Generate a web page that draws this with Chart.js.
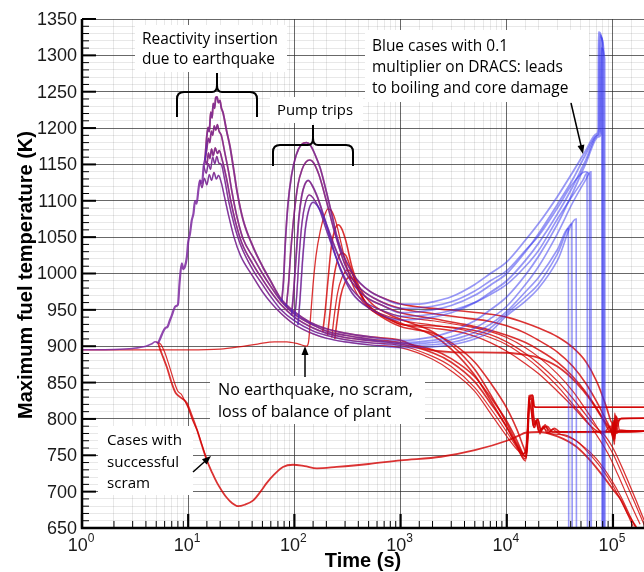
<!DOCTYPE html>
<html><head><meta charset="utf-8">
<script src="https://cdn.jsdelivr.net/npm/chart.js@4.4.0/dist/chart.umd.min.js"></script>
<style>html,body{margin:0;padding:0;background:#fff}#wrap{width:644px;height:572px}</style>
</head><body><div id="wrap"><canvas id="c" width="644" height="572"></canvas></div>
<script>
// ---- tick labels ----
const xDecades = [1, 10, 100, 1000, 10000, 100000];
const xExponents = ['0', '1', '2', '3', '4', '5'];
const yTickLabels = [650, 700, 750, 800, 850, 900, 950, 1000, 1050, 1100, 1150, 1200, 1250, 1300, 1350];

// ---- early history (t <= 1000 s): [time (s), max fuel temperature (K)] ----
const baseline = [[1,895],[2,895.5],[3,897],[4,900],[4.5,903],[4.9,906],[5.2,904]];
const rise = [[5.2,904],[5.5,912],[5.8,920],[6.1,925],[6.4,927],[6.7,935],[7.0,942],[7.3,950],[7.6,955],[8.0,957],[8.3,988],[8.7,1014],[9.0,1006],[9.3,1009],[9.7,1022],[10.0,1043],[10.4,1055],[10.8,1073],[11.2,1082],[11.6,1100],[12.0,1096],[12.5,1116],[12.9,1128],[13.5,1124],[14.0,1148],[14.4,1156]];
const react1 = [[14.4,1156],[15.0,1190],[15.4,1201],[15.8,1195],[16.3,1222],[16.8,1214],[17.2,1234],[17.7,1227],[18.2,1242],[18.7,1243],[19.2,1235],[19.9,1238],[20.5,1228],[21.3,1221],[23,1196],[24.8,1174],[27,1140],[29,1111],[33,1073],[41,1036],[50,1010],[59,991],[73,967],[85,956],[100,947],[140,933],[200,924],[300,918],[500,913],[1000,908]];
const react2 = [[14.4,1156],[15,1172],[15.5,1186],[16,1180],[16.5,1196],[17,1190],[17.6,1203],[18.2,1197],[18.8,1205],[19.5,1196],[20.5,1190],[22,1168],[24,1140],[26,1110],[29,1076],[33,1047],[41,1022],[50,1000],[60,982],[75,962],[100,944],[150,929],[200,921],[300,915],[500,910],[1000,905]];
const react3 = [[14.4,1156],[15,1150],[15.5,1166],[16,1158],[16.6,1171],[17.2,1162],[18,1173],[18.8,1165],[19.6,1169],[21,1155],[23,1130],[25,1102],[28,1070],[32,1042],[41,1012],[50,992],[60,975],[75,957],[100,940],[150,925],[200,918],[300,912],[500,908],[1000,903]];
const react4 = [[14.0,1148],[14.8,1138],[15.5,1151],[16.2,1143],[17,1160],[17.8,1151],[18.6,1161],[19.4,1152],[20.5,1150],[22,1130],[24,1100],[27,1068],[31,1040],[41,1004],[50,985],[60,968],[75,950],[100,935],[150,921],[200,915],[300,909],[500,905],[1000,901]];
const react5 = [[12.9,1128],[13.5,1118],[14.2,1131],[15,1122],[15.8,1136],[16.6,1128],[17.5,1139],[18.4,1130],[19.3,1135],[20.5,1125],[22,1105],[24,1080],[27,1050],[31,1025],[41,995],[50,975],[60,960],[75,945],[100,930],[150,917],[200,911],[300,906],[500,902],[1000,898]];
const pump1 = [[76,962],[79,990],[82,1040],[87,1095],[94,1135],[104,1163],[116,1177],[130,1180],[142,1176],[156,1164],[175,1145],[202,1110],[228,1078],[250,1052],[280,1030],[314,1014],[360,998],[414,987],[520,975],[640,968],[1000,958]];
const pump2 = [[84,955],[88,985],[93,1035],[100,1085],[108,1122],[118,1143],[128,1153],[140,1156],[152,1152],[170,1136],[200,1100],[240,1056],[300,1012],[400,982],[600,964],[1000,952]];
const pump3 = [[94,942],[98,972],[104,1025],[110,1075],[117,1106],[125,1122],[135,1128],[146,1122],[165,1105],[200,1068],[250,1030],[320,996],[450,970],[700,955],[1000,946]];
const pump4 = [[100,935],[105,968],[111,1025],[118,1070],[127,1097],[138,1108],[150,1104],[170,1090],[200,1060],[250,1020],[320,986],[450,962],[700,948],[1000,941]];
const pump5 = [[108,929],[113,965],[119,1015],[127,1062],[137,1088],[150,1098],[165,1093],[190,1076],[220,1046],[270,1006],[350,973],[500,953],[1000,936]];
const noQuake = [[1,895],[5,895],[10,895],[20,896],[30,899],[45,903],[65,906],[85,906],[110,903],[130,900],[136,906],[142,940],[150,985],[160,1025],[175,1058],[192,1080],[207,1089],[222,1087],[245,1072],[275,1042],[310,1010],[370,978],[480,955],[700,940],[1000,930]];
const rpump1 = [[185,920],[195,948],[207,990],[222,1035],[238,1058],[258,1067],[278,1062],[305,1045],[350,1008],[420,978],[550,957],[800,943],[1000,937]];
const rpump2 = [[205,915],[217,948],[232,988],[252,1016],[280,1028],[305,1025],[335,1010],[385,985],[460,962],[600,947],[1000,932]];
const rpump3 = [[225,912],[238,943],[255,973],[280,994],[318,1005],[345,1001],[385,985],[445,966],[550,950],[800,937],[1000,930]];
const rpump4 = [[240,910],[254,938],[272,968],[298,987],[330,995],[362,990],[405,975],[490,955],[650,941],[1000,927]];
const scram1 = [[5.2,905],[5.4,897],[5.8,885],[6.3,871],[6.8,855],[7.2,844],[7.6,836],[8.4,830],[9.7,822],[10.8,805],[12.1,785],[13.5,763],[15,743],[16.8,726],[18.7,712],[21,700],[23,692],[26,684],[29.5,680],[34,682],[41,688],[48,700],[55,712],[65,724],[78,734],[97,737],[125,735],[163,732],[250,734],[500,738],[1000,743],[2400,748],[5000,757],[10000,770],[13000,777],[15000,781],[20000,782],[30000,776],[45000,762],[61000,743],[80000,722],[100000,703],[120000,688],[140000,668],[166000,651]];
const scram2 = [[5.0,906],[5.5,903],[6.0,892],[6.5,877],[7.0,862],[7.5,848],[8.0,838],[8.6,834],[9.2,826],[10,815],[11,798],[12.1,785],[13.5,764],[15,744]];

// ---- late history (t >= 1000 s), blue = 0.1 DRACS multiplier ----
const blue1 = [[1000,958],[1500,958],[2000,961],[3000,968],[5000,985],[7000,1000],[10000,1016],[15000,1046],[20000,1069],[30000,1106],[42000,1140],[55000,1168],[70000,1192],[72500,1198],[73000,1332],[78500,1322],[79000,650]];
const blue2 = [[1000,946],[2000,950],[3000,956],[5000,970],[7000,984],[10000,1000],[15000,1030],[20000,1055],[30000,1095],[42000,1130],[55000,1163],[71000,1190],[74000,1198],[74500,1328],[80000,1318],[80500,650]];
const blue3 = [[1000,936],[2000,940],[3000,946],[5000,960],[7000,974],[10000,990],[15000,1018],[20000,1042],[30000,1082],[42000,1120],[55000,1155],[72000,1190],[75500,1196],[76000,1325],[81500,1310],[82000,650]];
const blue4 = [[1000,908],[2000,913],[3000,920],[5000,935],[7000,950],[10000,968],[15000,998],[20000,1024],[30000,1068],[42000,1112],[55000,1150],[73000,1188],[77000,1192],[77500,1310],[83500,1295],[84000,650]];
const blue5 = [[1000,941],[2000,944],[3000,949],[5000,960],[7000,971],[10000,985],[15000,1010],[20000,1032],[30000,1075],[42000,1108],[52000,1128],[57000,1138],[57500,650]];
const blue6 = [[1000,905],[2000,908],[3000,913],[5000,925],[7000,938],[10000,955],[15000,985],[20000,1010],[30000,1055],[42000,1098],[55000,1128],[62000,1140],[62500,650]];
const blue7 = [[1000,903],[2000,905],[3000,909],[5000,919],[7000,930],[10000,948],[15000,975],[20000,995],[30000,1033],[38000,1062],[38300,650]];
const blue8 = [[1000,901],[2000,902],[3000,905],[5000,914],[7000,925],[10000,945],[15000,968],[20000,986],[30000,1027],[41000,1068],[41300,650]];
const blue9 = [[1000,898],[2000,899],[3000,902],[5000,910],[7000,920],[10000,942],[15000,962],[20000,980],[30000,1018],[45000,1075],[45300,650]];
const blue10 = [[1000,952],[2000,955],[3000,961],[5000,976],[7000,990],[10000,1004],[15000,1032],[20000,1052],[30000,1090],[42000,1124],[55000,1140],[60000,1136],[60500,650]];

// ---- late history (t >= 1000 s), red = nominal DRACS ----
const redTop1 = [[1000,958],[2000,952],[4000,948],[7000,944],[10000,940],[15000,932],[20000,925],[30000,913],[42000,898],[56000,878],[70000,852],[85000,820],[95000,798],[100000,788],[102000,770],[104000,808],[106000,790],[108000,803],[112000,797],[120000,801],[200000,801]];
const redTop2 = [[1000,952],[2000,945],[4000,939],[7000,934],[10000,928],[15000,918],[20000,908],[30000,892],[42000,872],[56000,848],[70000,824],[85000,800],[95000,786],[100000,778],[102000,798],[104000,772],[106000,792],[108000,780],[115000,784],[200000,783]];
const redMid1 = [[1000,946],[2000,938],[4000,930],[7000,922],[10000,915],[15000,905],[20000,895],[30000,878],[42000,858],[56000,836],[70000,815],[85000,795],[95000,785],[100000,776],[103000,798],[105000,778],[108000,792],[112000,782],[200000,783]];
const redTop3 = [[1000,941],[2000,935],[4000,928],[7000,920],[10000,912],[15000,898],[20000,885],[30000,862],[42000,838],[56000,812],[70000,790],[85000,770],[100000,752],[130000,715],[160000,685],[200000,652]];
const redTop4 = [[1000,936],[2000,929],[4000,922],[7000,912],[10000,902],[15000,885],[20000,870],[30000,845],[42000,820],[56000,798],[70000,778],[90000,752],[110000,725],[140000,690],[180000,655]];
const redTop5 = [[1000,930],[2000,925],[4000,918],[7000,905],[10000,893],[15000,876],[20000,862],[30000,838],[45000,812],[60000,792],[80000,780],[95000,790],[100000,772],[103000,800],[106000,785],[110000,798],[115000,785],[200000,783]];
const redFlat = [[1000,908],[1500,898],[3000,892],[10000,891],[15000,888],[20000,884],[30000,872],[45000,850],[60000,828],[80000,800],[95000,783],[100000,795],[103000,765],[106000,805],[110000,790],[115000,800],[200000,801]];
const redLow1 = [[1000,905],[2000,895],[3000,883],[5000,858],[7000,830],[10000,797],[12500,770],[14500,750],[15200,748],[15800,790],[16200,832],[17500,833],[18000,818],[18800,816],[200000,816]];
const redLow2 = [[1000,903],[2000,891],[3000,878],[5000,851],[7000,822],[10000,789],[12500,763],[14800,745],[15600,760],[16200,830],[17200,830],[17800,800],[18500,792],[19500,800],[21000,783],[23000,792],[25000,781],[28000,787],[32000,782],[200000,783]];
const redLow3 = [[1000,901],[2000,886],[3000,872],[5000,843],[7000,815],[10000,782],[12500,760],[15000,742],[15800,775],[16400,828],[17000,826],[17600,795],[18300,788],[19300,797],[20500,779],[22000,790],[24000,780],[27000,786],[30000,781],[45000,770],[60000,752],[80000,730],[100000,708],[130000,676],[155000,652]];
const redLow4 = [[1000,898],[2000,882],[3000,866],[5000,838],[7000,808],[10000,776],[12500,758],[14000,752],[15000,755],[15800,800],[16500,825],[17200,805],[18000,788],[19000,796],[20000,782],[22000,788],[25000,780],[35000,778],[50000,765],[70000,745],[95000,718],[120000,692],[150000,662],[165000,650]];
const redLow5 = [[1000,937],[2000,920],[3000,902],[5000,868],[7000,834],[10000,794],[12500,766],[14500,752],[15500,768],[16300,820],[17000,812],[17800,790],[18800,798],[20000,784],[23000,790],[26000,782],[200000,783]];
const redLow6 = [[1000,932],[2000,915],[3000,896],[5000,860],[7000,826],[10000,788],[12800,760],[15000,748],[15700,780],[16300,826],[17300,828],[17900,805],[18600,795],[19600,800],[21000,785],[24000,790],[27000,782],[200000,783]];
const redMid2 = [[1000,930],[2000,928],[4000,924],[7000,916],[10000,906],[15000,890],[20000,876],[30000,852],[42000,828],[56000,805],[70000,788],[85000,776],[100000,760],[130000,724],[165000,688],[200000,658]];
const redLow7 = [[1000,927],[2000,918],[3000,905],[5000,878],[7000,850],[10000,815],[12500,785],[14500,760],[15300,752],[15900,785],[16400,830],[17600,832],[18100,818],[19000,816],[200000,816]];

const RED = 'rgba(210,0,0,0.8)';
const PURPLE = 'rgba(125,40,160,0.85)';
const BLUE = 'rgba(50,50,240,0.5)';

const join = (a, b) => a.concat(b.slice(1));
// Chart.js paints the first dataset on top, so the blue runs are listed before the red ones
const series = [
  [rise, PURPLE, 2.2], [baseline, PURPLE, 1.5],
  [join(pump1, blue1), BLUE, 1.8], [join(pump2, blue10), BLUE, 1.6], [join(pump3, blue2), BLUE, 1.8], [join(pump4, blue5), BLUE, 1.6], [join(pump5, blue3), BLUE, 1.8],
  [join(react1, blue4), BLUE, 1.8], [join(react2, blue6), BLUE, 1.6], [join(react3, blue7), BLUE, 1.6], [join(react4, blue8), BLUE, 1.6], [join(react5, blue9), BLUE, 1.6],
  [join(pump1, redTop1), RED, 1.6], [join(pump2, redTop2), RED, 1.6], [join(pump3, redMid1), RED, 1.6], [join(pump4, redTop3), RED, 1.2], [join(pump5, redTop4), RED, 1.2],
  [join(react1, redFlat), RED, 1.8], [join(react2, redLow1), RED, 1.6], [join(react3, redLow2), RED, 1.6], [join(react4, redLow3), RED, 1.2], [join(react5, redLow4), RED, 1.2],
  [join(rpump1, redLow5), RED, 1.6], [join(rpump2, redLow6), RED, 1.6], [join(rpump3, redMid2), RED, 1.3], [join(rpump4, redLow7), RED, 1.6],
  [join(noQuake, redTop5), RED, 1.3],
  [scram1, RED, 1.8], [scram2, RED, 1.2]
];

const datasets = series.map(([arr, color, w]) => ({
  data: arr.map(([x, y]) => ({x, y})),
  borderColor: color, borderWidth: w, pointRadius: 0, fill: false,
  cubicInterpolationMode: 'monotone'
}));

const TEXT_FONT = '"Open Sans", Lato, sans-serif';
const notes = [
  {box: [135, 25, 287, 72], x: 142, base: [44, 64], lines: ['Reactivity insertion', 'due to earthquake'], fit: 136},
  {box: [270, 97, 363, 123], x: 277, base: [115], lines: ['Pump trips'], fit: 76},
  {box: [365, 30, 589, 102], x: 372, base: [51, 72, 93], lines: ['Blue cases with 0.1', 'multiplier on DRACS: leads', 'to boiling and core damage'], fit: 191, fitIdx: 1},
  {box: [210, 376, 425, 424], x: 218, base: [395, 417], lines: ['No earthquake, no scram,', 'loss of balance of plant'], fit: 195},
  {box: [98, 426, 193, 495], x: 107, base: [445, 467, 488], lines: ['Cases with', 'successful', 'scram'], fit: 75}
];

function arrow(ctx, x1, y1, x2, y2) {
  const a = Math.atan2(y2 - y1, x2 - x1), L = 9, W = 3.5;
  ctx.beginPath(); ctx.moveTo(x1, y1);
  ctx.lineTo(x2 - Math.cos(a) * L * 0.8, y2 - Math.sin(a) * L * 0.8); ctx.stroke();
  ctx.beginPath(); ctx.moveTo(x2, y2);
  ctx.lineTo(x2 - Math.cos(a) * L + Math.sin(a) * W, y2 - Math.sin(a) * L - Math.cos(a) * W);
  ctx.lineTo(x2 - Math.cos(a) * L - Math.sin(a) * W, y2 - Math.sin(a) * L + Math.cos(a) * W);
  ctx.closePath(); ctx.fill();
}
function brace(ctx, L, R, bar, bottom, tipX, tipY) {
  ctx.beginPath();
  ctx.moveTo(L, bottom); ctx.lineTo(L, bar + 7); ctx.quadraticCurveTo(L, bar, L + 7, bar);
  ctx.lineTo(tipX - 5, bar); ctx.quadraticCurveTo(tipX, bar, tipX, bar - 7); ctx.lineTo(tipX, tipY);
  ctx.moveTo(tipX, bar - 7); ctx.quadraticCurveTo(tipX, bar, tipX + 5, bar);
  ctx.lineTo(R - 7, bar); ctx.quadraticCurveTo(R, bar, R, bar + 7); ctx.lineTo(R, bottom);
  ctx.stroke();
}

const decor = {
  id: 'decor',
  afterDatasetsDraw(chart) {
    const ctx = chart.ctx, xs = chart.scales.x, ys = chart.scales.y, ca = chart.chartArea;
    ctx.save();
    ctx.strokeStyle = '#000'; ctx.fillStyle = '#000';
    for (let v = 650; v <= 1350; v += 10) {
      const y = ys.getPixelForValue(v), major = v % 50 === 0;
      ctx.lineWidth = major ? 2 : 1;
      ctx.beginPath(); ctx.moveTo(ca.left, y); ctx.lineTo(ca.left + (major ? 14 : 7), y); ctx.stroke();
    }
    xs.ticks.forEach(t => {
      const v = t.value; if (v > 199999) return;
      const major = isDecade(v);
      const x = xs.getPixelForValue(v);
      ctx.lineWidth = major ? 2.2 : 1;
      ctx.beginPath(); ctx.moveTo(x, ca.bottom); ctx.lineTo(x, ca.bottom - (major ? 14 : 7)); ctx.stroke();
    });
    ctx.lineWidth = 2.5;
    ctx.beginPath(); ctx.moveTo(ca.left, ca.top); ctx.lineTo(ca.left, ca.bottom); ctx.lineTo(ca.right, ca.bottom); ctx.stroke();
    // tick labels
    ctx.fillStyle = '#1a1a1a';
    ctx.font = '18px "Liberation Sans", Arial, sans-serif';
    ctx.textAlign = 'right'; ctx.textBaseline = 'middle';
    yTickLabels.forEach(v => ctx.fillText(String(v), 77, ys.getPixelForValue(v) + 1));
    ctx.textBaseline = 'alphabetic'; ctx.textAlign = 'left';
    xDecades.forEach((v, i) => {
      const x = xs.getPixelForValue(v);
      ctx.font = '18px "Liberation Sans", Arial, sans-serif';
      const w1 = ctx.measureText('10').width;
      ctx.font = '12px "Liberation Sans", Arial, sans-serif';
      const w2 = ctx.measureText(xExponents[i]).width;
      const x0 = x - (w1 + w2) / 2 - 1;
      ctx.font = '18px "Liberation Sans", Arial, sans-serif';
      ctx.fillText('10', x0, 551);
      ctx.font = '12px "Liberation Sans", Arial, sans-serif';
      ctx.fillText(xExponents[i], x0 + w1, 542);
    });
    // axis titles
    ctx.font = 'bold 20px "Liberation Sans", Arial, sans-serif';
    ctx.textAlign = 'center'; ctx.textBaseline = 'middle'; ctx.fillStyle = '#000';
    ctx.fillText('Time (s)', 363, 561);
    ctx.save(); ctx.translate(26, 275); ctx.rotate(-Math.PI / 2);
    ctx.fillText('Maximum fuel temperature (K)', 0, 0); ctx.restore();
    // annotation boxes + text
    notes.forEach(n => {
      ctx.fillStyle = '#fff';
      ctx.fillRect(n.box[0], n.box[1], n.box[2] - n.box[0], n.box[3] - n.box[1]);
      ctx.font = '20px ' + TEXT_FONT;
      const ref = n.lines[n.fitIdx || 0];
      const size = 20 * n.fit / ctx.measureText(ref).width;
      ctx.font = size.toFixed(2) + 'px ' + TEXT_FONT;
      ctx.fillStyle = '#000'; ctx.textAlign = 'left'; ctx.textBaseline = 'alphabetic';
      n.lines.forEach((s, i) => ctx.fillText(s, n.x, n.base[i]));
    });
    ctx.strokeStyle = '#000'; ctx.fillStyle = '#000'; ctx.lineWidth = 2;
    brace(ctx, 177, 257, 92, 117, 217, 73);
    brace(ctx, 273, 353, 145, 166, 313, 125);
    ctx.lineWidth = 1.5;
    arrow(ctx, 571, 103, 583, 154);
    arrow(ctx, 305, 377, 305, 346);
    arrow(ctx, 193, 472, 211, 456);
    ctx.restore();
  }
};

function isDecade(v) { const l = Math.log10(v); return Math.abs(l - Math.round(l)) < 1e-6; }

new Chart(document.getElementById('c'), {
  type: 'line',
  data: {datasets},
  options: {
    responsive: false, animation: false, devicePixelRatio: 1,
    layout: {padding: {left: 82, top: 19, right: 0, bottom: 44}},
    plugins: {legend: {display: false}, tooltip: {enabled: false}},
    scales: {
      x: {
        type: 'logarithmic', min: 1, max: 196000,
        border: {display: false},
        ticks: {display: false},
        grid: {drawTicks: false, lineWidth: 1,
          color: c => isDecade(c.tick.value) ? 'rgba(40,40,40,0.7)' : 'rgba(0,0,0,0.09)'}
      },
      y: {
        type: 'linear', min: 650, max: 1350,
        border: {display: false},
        ticks: {display: false, stepSize: 10, maxTicksLimit: 100},
        grid: {drawTicks: false, lineWidth: 1,
          color: c => (c.tick.value % 50 === 0) ? 'rgba(40,40,40,0.7)' : 'rgba(0,0,0,0.09)'}
      }
    }
  },
  plugins: [decor]
});
</script></body></html>
